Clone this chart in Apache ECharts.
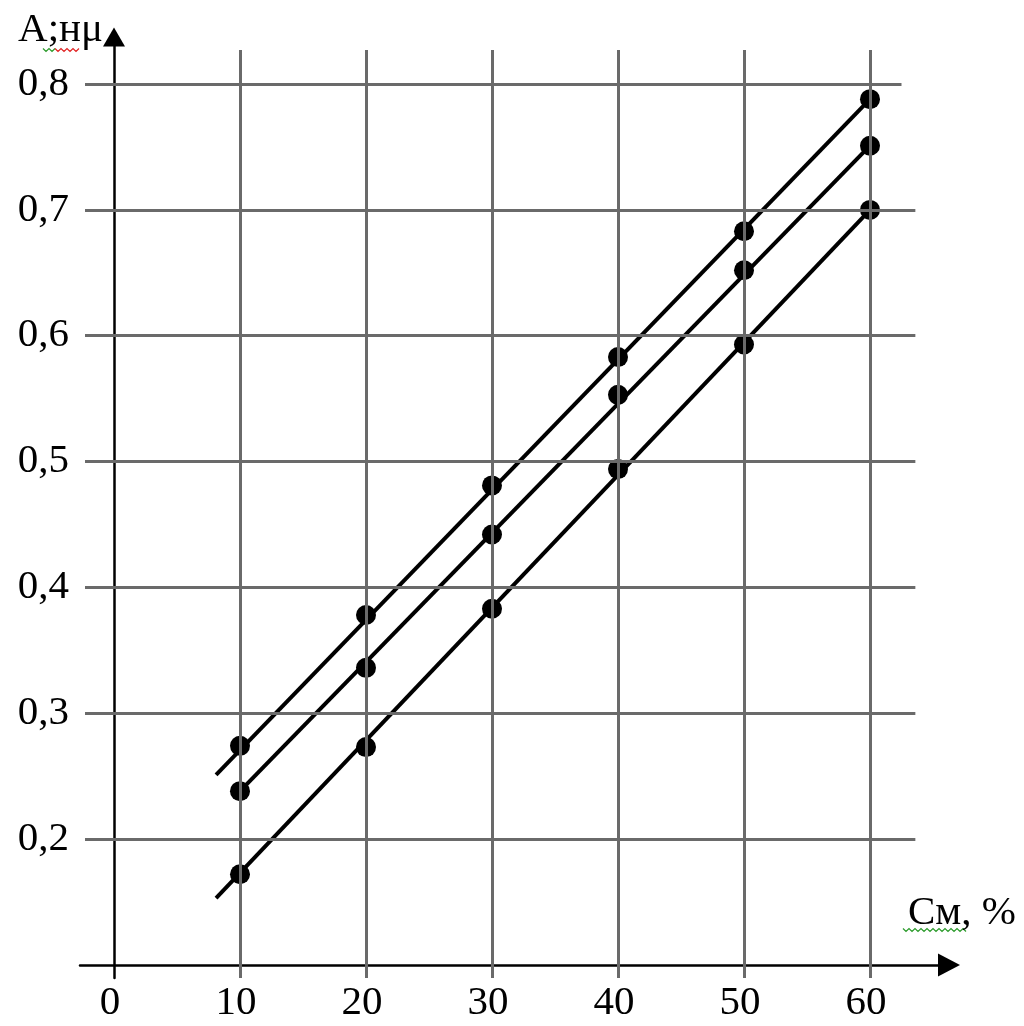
<!DOCTYPE html>
<html>
<head>
<meta charset="utf-8">
<script src="https://cdn.jsdelivr.net/npm/echarts@6/dist/echarts.min.js"></script>
<style>
  html, body { margin: 0; padding: 0; background: #fff; }
  #chart { width: 1024px; height: 1026px; }
</style>
</head>
<body>
<div id="chart"></div>
<script>
// Concentration, %
const concentration = [10, 20, 30, 40, 50, 60];
// Absorbance for the three sample sets
const absTop = [0.274, 0.378, 0.481, 0.583, 0.683, 0.788];
const absMid = [0.238, 0.336, 0.442, 0.553, 0.652, 0.751];
const absLow = [0.172, 0.273, 0.383, 0.494, 0.593, 0.700];
// Straight calibration lines drawn through each set: [C, A] end points
const lineTop = [[8.1, 0.251], [60, 0.788]];
const lineMid = [[10, 0.238], [60, 0.751]];
const lineLow = [[8.1, 0.153], [60, 0.700]];
// Tick labels
const xTicks = [0, 10, 20, 30, 40, 50, 60];
const yTicks = [0.2, 0.3, 0.4, 0.5, 0.6, 0.7, 0.8];

const FONT = '"Liberation Serif", "Times New Roman", serif';
const GRID_COLOR = '#6a6a6a';

// grid line extents in data units
const hFrom = -2.3, hTo = 63.6, hToTop = 62.5;
const vFrom = 0.0895, vTo = 0.827;

const gridSegments = [];
yTicks.forEach(function (v) {
  gridSegments.push([{ coord: [hFrom, v] }, { coord: [v === 0.8 ? hToTop : hTo, v] }]);
});
xTicks.filter(function (c) { return c !== 0; }).forEach(function (c) {
  gridSegments.push([{ coord: [c, vFrom] }, { coord: [c, vTo] }]);
});

function pairs(xs, ys) { return xs.map(function (x, i) { return [x, ys[i]]; }); }

function fitLine(pts) {
  return {
    type: 'line', data: pts, symbol: 'none', silent: true, z: 3,
    lineStyle: { color: '#000', width: 4 }, animation: false
  };
}
function dots(pts) {
  return {
    type: 'scatter', data: pts, symbol: 'circle', symbolSize: 20, z: 4,
    itemStyle: { color: '#000', opacity: 1 }, animation: false
  };
}

// wavy spell-check style underline
function squiggle(x0, x1, y, color) {
  const pts = [];
  let up = true;
  for (let x = x0; x <= x1; x += 3) { pts.push([x, y + (up ? -1.5 : 1.5)]); up = !up; }
  return { type: 'polyline', shape: { points: pts }, style: { stroke: color, lineWidth: 1.2, fill: null }, silent: true };
}

const chart = echarts.init(document.getElementById('chart'), null, { renderer: 'canvas' });
chart.setOption({
  backgroundColor: '#fff',
  animation: false,
  grid: { left: 80, right: 75, top: 37, bottom: 48, containLabel: false, outerBoundsMode: 'none' },
  xAxis: {
    type: 'value', min: -2.698, max: 66.27,
    position: 'bottom', offset: -13,
    name: 'См, %', nameLocation: 'end', nameGap: 13,
    nameTextStyle: { fontFamily: FONT, fontSize: 41, color: '#000', align: 'center', verticalAlign: 'bottom', padding: [0, 0, 31, 0] },
    axisLine: { show: true, onZero: false, symbol: ['none', 'triangle'], symbolSize: [23, 22], lineStyle: { color: '#000', width: 2.5 } },
    axisTick: { show: false },
    splitLine: { show: false },
    axisLabel: {
      customValues: xTicks, margin: 18, padding: [0, 8, 0, 0],
      fontFamily: FONT, fontSize: 41, color: '#000'
    }
  },
  yAxis: {
    type: 'value', min: 0.0895, max: 0.8374,
    name: 'А;нμ', nameLocation: 'end', nameGap: 7,
    nameTextStyle: { fontFamily: FONT, fontSize: 41, color: '#000', align: 'right', verticalAlign: 'middle', padding: [0, 11, 0, 0] },
    axisLine: { show: true, onZero: true, symbol: ['none', 'triangle'], symbolSize: [22, 19], lineStyle: { color: '#000', width: 2.5 } },
    axisTick: { show: false },
    splitLine: { show: false },
    axisLabel: {
      customValues: yTicks, margin: 11,
      formatter: function (v) { return v.toFixed(1).replace('.', ','); },
      fontFamily: FONT, fontSize: 41, color: '#000'
    }
  },
  series: [
    {
      type: 'line', data: [], silent: true, z: 1,
      markLine: {
        silent: true, symbol: ['none', 'none'], label: { show: false },
        lineStyle: { color: GRID_COLOR, width: 3, type: 'solid' },
        data: gridSegments, animation: false
      }
    },
    fitLine(lineTop), fitLine(lineMid), fitLine(lineLow),
    dots(pairs(concentration, absTop)),
    dots(pairs(concentration, absMid)),
    dots(pairs(concentration, absLow))
  ],
  graphic: [
    squiggle(43, 55, 50, '#2a9a2a'),
    squiggle(55, 80, 50, '#e02020'),
    squiggle(903, 967, 930, '#2a9a2a')
  ]
});
</script>
</body>
</html>
